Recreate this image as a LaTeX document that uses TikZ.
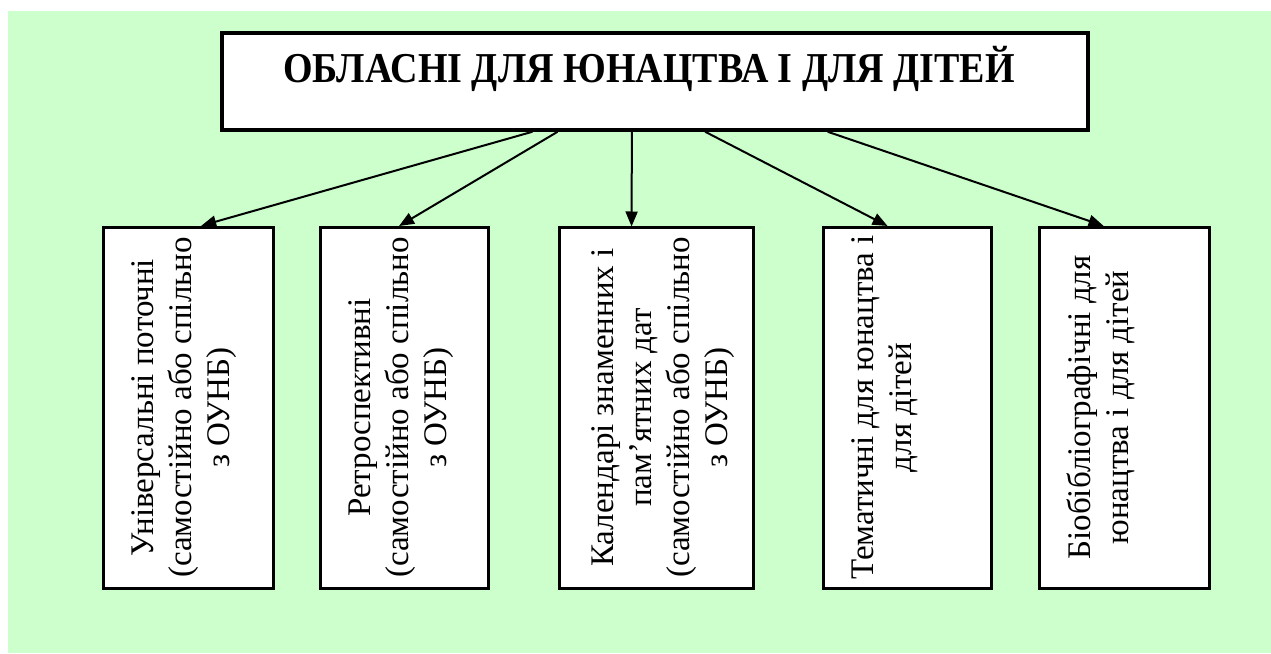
\documentclass[tikz,border=0pt]{standalone}
\usepackage{fontspec}
\setmainfont{Liberation Serif}
\usetikzlibrary{arrows.meta,calc}
\definecolor{bggreen}{HTML}{CCFFCC}
\tikzset{
  box/.style={draw=black, fill=white, line width=3pt, inner sep=0pt},
  vtext/.style={rotate=90, anchor=north, align=center, inner sep=0pt,
    font=\fontsize{33}{38}\selectfont},
  arr/.style={line width=2pt, -{Triangle[length=15pt,width=12pt]}, shorten >=-1pt}
}
\begin{document}
\begin{tikzpicture}[x=1pt,y=-1pt]
\useasboundingbox (0,0) rectangle (1271,653);
\fill[bggreen] (8,11) rectangle (1271,653);
\node[box, line width=3.5pt, minimum width=866pt, minimum height=97pt] (top) at (655,81.5) {};
\node[anchor=base, inner sep=0pt, font=\fontsize{38}{44}\selectfont\bfseries] (title) at (649,82) {\scalebox{1}[1.12]{ОБЛАСНІ ДЛЯ ЮНАЦТВА І ДЛЯ ДІТЕЙ}};
\node[box, minimum width=170pt, minimum height=361pt] (b1) at (188,407.5) {};
\node[box, minimum width=168pt, minimum height=361pt] (b2) at (404,407.5) {};
\node[box, minimum width=194pt, minimum height=361pt] (b3) at (656,407.5) {};
\node[box, minimum width=168pt, minimum height=361pt] (b4) at (907,407.5) {};
\node[box, minimum width=170pt, minimum height=361pt] (b5) at (1124,407.5) {};
\node[vtext] (t1) at (131,407.5) {Універсальні поточні\\(самостійно або спільно\\з ОУНБ)};
\node[vtext] (t2) at (348,407.5) {Ретроспективні\\(самостійно або спільно\\з ОУНБ)};
\node[vtext] (t3) at (591,407.5) {Календарі знаменних і\\пам’ятних дат\\(самостійно або спільно\\з ОУНБ)};
\node[vtext] (t4) at (851,407.5) {Тематичні для юнацтва і\\для дітей};
\node[vtext] (t5) at (1067,407.5) {Біобібліографічні для\\юнацтва і для дітей};
\draw[arr] ($(top.south west)!0.359!(top.south east)$) -- ($(b1.north west)!0.582!(b1.north east)$);
\draw[arr] ($(top.south west)!0.388!(top.south east)$) -- ($(b2.north west)!0.476!(b2.north east)$);
\draw[arr] ($(top.south west)!0.4734!(top.south east)$) -- ($(b3.north west)!0.376!(b3.north east)$);
\draw[arr] ($(top.south west)!0.5577!(top.south east)$) -- ($(b4.north west)!0.381!(b4.north east)$);
\draw[arr] ($(top.south west)!0.6986!(top.south east)$) -- ($(b5.north west)!0.376!(b5.north east)$);
\end{tikzpicture}
\end{document}
